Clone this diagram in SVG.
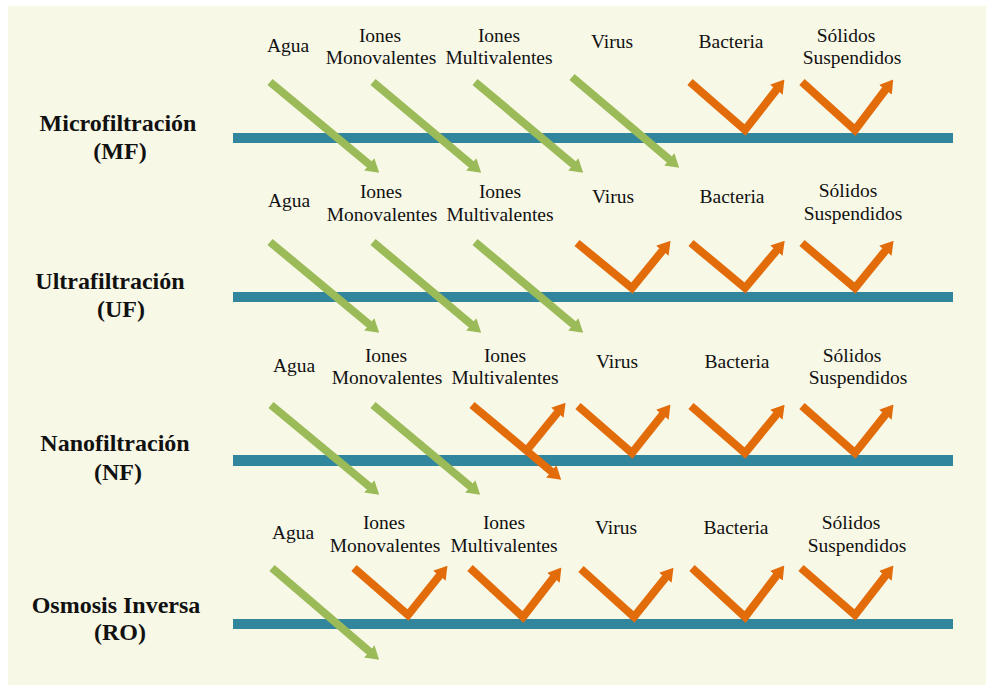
<svg xmlns="http://www.w3.org/2000/svg" width="986" height="685" viewBox="0 0 986 685">
<style>
.lbl{font-family:"Liberation Serif","Times New Roman",serif;font-size:19.5px;fill:#111;text-anchor:middle}
.ttl{font-family:"Liberation Serif","Times New Roman",serif;font-size:24px;font-weight:bold;fill:#111;text-anchor:middle}
.bar{fill:#31859C}
.g{fill:none;stroke:#9BBB59;stroke-width:8;marker-end:url(#ag)}
.o{fill:none;stroke:#E36C0A;stroke-width:8;stroke-linejoin:miter;stroke-miterlimit:10;marker-end:url(#ao)}
</style>
<defs>
<marker id="ag" markerUnits="userSpaceOnUse" markerWidth="13" markerHeight="16" viewBox="0 0 13 16" refX="1" refY="8" orient="auto"><path d="M0,0 L13,8 L0,16 Z" fill="#9BBB59"/></marker>
<marker id="ao" markerUnits="userSpaceOnUse" markerWidth="13" markerHeight="16" viewBox="0 0 13 16" refX="1" refY="8" orient="auto"><path d="M0,0 L13,8 L0,16 Z" fill="#E36C0A"/></marker>
</defs>
<rect x="0" y="0" width="986" height="685" fill="#ffffff"/>
<rect x="8" y="6" width="978" height="679" fill="#F8F8E7"/>

<g id="mf">
<text class="ttl" x="118" y="131">Microfiltración</text>
<text class="ttl" x="120" y="159">(MF)</text>
<rect class="bar" x="233" y="133" width="720" height="10"/>
<text class="lbl" x="288" y="52">Agua</text>
<text class="lbl" x="380" y="42">Iones</text>
<text class="lbl" x="381" y="64">Monovalentes</text>
<text class="lbl" x="499" y="42">Iones</text>
<text class="lbl" x="499" y="64">Multivalentes</text>
<text class="lbl" x="612" y="48">Virus</text>
<text class="lbl" x="731" y="48">Bacteria</text>
<text class="lbl" x="846" y="42">Sólidos</text>
<text class="lbl" x="852" y="64">Suspendidos</text>
</g>

<g id="uf">
<text class="ttl" x="110" y="289">Ultrafiltración</text>
<text class="ttl" x="121" y="317">(UF)</text>
<rect class="bar" x="233" y="292" width="720" height="10"/>
<text class="lbl" x="289" y="207">Agua</text>
<text class="lbl" x="381" y="198">Iones</text>
<text class="lbl" x="382" y="221">Monovalentes</text>
<text class="lbl" x="500" y="198">Iones</text>
<text class="lbl" x="500" y="221">Multivalentes</text>
<text class="lbl" x="613" y="203">Virus</text>
<text class="lbl" x="732" y="203">Bacteria</text>
<text class="lbl" x="848" y="197">Sólidos</text>
<text class="lbl" x="853" y="220">Suspendidos</text>
</g>

<g id="nf">
<text class="ttl" x="115" y="451">Nanofiltración</text>
<text class="ttl" x="118" y="480">(NF)</text>
<rect class="bar" x="233" y="455" width="720" height="11"/>
<text class="lbl" x="294" y="372">Agua</text>
<text class="lbl" x="386" y="362">Iones</text>
<text class="lbl" x="387" y="384">Monovalentes</text>
<text class="lbl" x="505" y="362">Iones</text>
<text class="lbl" x="505" y="384">Multivalentes</text>
<text class="lbl" x="617" y="368">Virus</text>
<text class="lbl" x="737" y="368">Bacteria</text>
<text class="lbl" x="852" y="362">Sólidos</text>
<text class="lbl" x="858" y="384">Suspendidos</text>
</g>

<g id="ro">
<text class="ttl" x="116" y="613">Osmosis Inversa</text>
<text class="ttl" x="120" y="640">(RO)</text>
<rect class="bar" x="233" y="619" width="720" height="10"/>
<text class="lbl" x="293" y="539">Agua</text>
<text class="lbl" x="384" y="529">Iones</text>
<text class="lbl" x="385" y="552">Monovalentes</text>
<text class="lbl" x="504" y="529">Iones</text>
<text class="lbl" x="504" y="552">Multivalentes</text>
<text class="lbl" x="616" y="534">Virus</text>
<text class="lbl" x="736" y="534">Bacteria</text>
<text class="lbl" x="851" y="529">Sólidos</text>
<text class="lbl" x="857" y="552">Suspendidos</text>
</g>

<g id="connectors">
<path class="g" d="M270,82 L370,165"/>
<path class="g" d="M373,82 L472,165"/>
<path class="g" d="M475,82 L574,165"/>
<path class="g" d="M572,77 L670,160"/>
<path class="o" d="M690,82 L745,130 L777,89"/>
<path class="o" d="M802,82 L855,130 L886,89"/>

<path class="g" d="M270,242 L370,325"/>
<path class="g" d="M373,242 L472,325"/>
<path class="g" d="M475,242 L574,325"/>
<path class="o" d="M577,243 L632,288 L663,250"/>
<path class="o" d="M691,243 L745,288 L777,250"/>
<path class="o" d="M802,243 L855,288 L886,250"/>

<path class="g" d="M271,405 L370,487"/>
<path class="g" d="M373,405 L471,487"/>
<path class="o" d="M472,405 L552,472"/>
<path class="o" d="M527,450 L558,412"/>
<path class="o" d="M578,406 L632,453 L663,414"/>
<path class="o" d="M691,406 L745,453 L777,414"/>
<path class="o" d="M802,406 L855,453 L886,414"/>

<path class="g" d="M272,568 L370,652"/>
<path class="o" d="M354,568 L408,615 L440,575"/>
<path class="o" d="M470,568 L523,617 L554,577"/>
<path class="o" d="M581,569 L634,617 L666,577"/>
<path class="o" d="M692,568 L745,617 L777,575"/>
<path class="o" d="M801,568 L855,615 L886,575"/>
</g>
</svg>
